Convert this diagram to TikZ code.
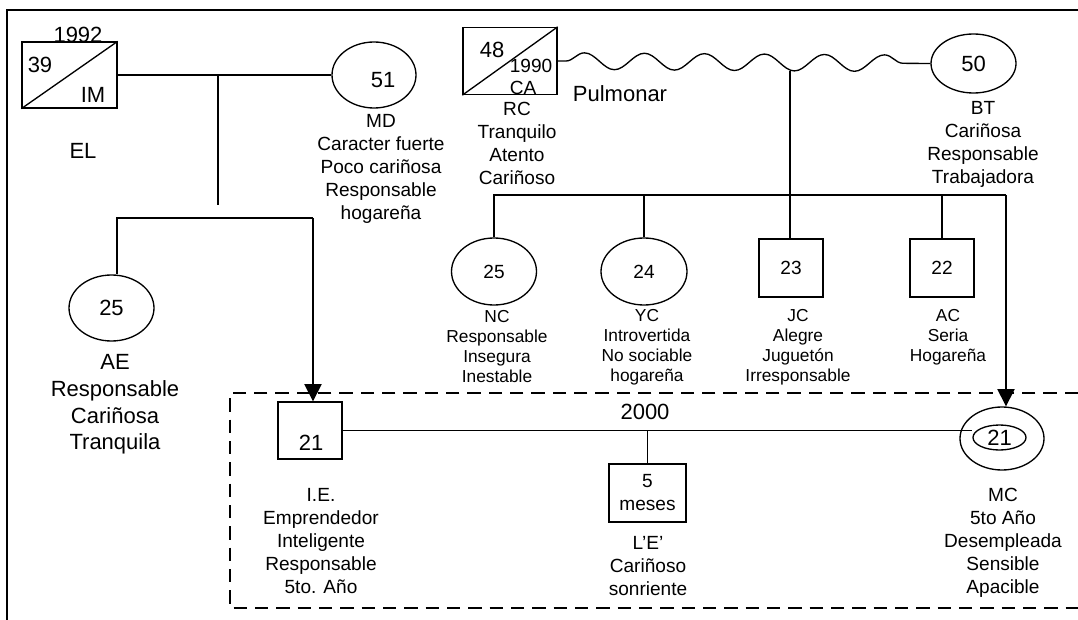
\documentclass[tikz,border=0pt]{standalone}
\usepackage{fontspec}
\setmainfont{Liberation Sans}
\usetikzlibrary{arrows.meta,shapes.geometric,decorations.pathmorphing}

\begin{document}
\begin{tikzpicture}[x=0.75pt,y=-0.75pt,line width=1pt,>={Triangle[length=13pt,width=13pt]},
	Edge/.style={-,black,line width=1pt},
	Male/.style={rectangle,fill=white,draw=black,inner sep=0pt},
	Female/.style={ellipse,fill=white,draw=black,inner sep=0pt},
	BigText/.style={font=\fontsize{16.5}{20}\selectfont,align=center,inner sep=0pt},
	MidText/.style={font=\fontsize{14.3}{17.25}\selectfont,align=center,inner sep=0pt},
	SmallText/.style={font=\fontsize{13}{15}\selectfont,align=center,inner sep=0pt},
	Wave/.style={decorate,decoration={snake,segment length=45pt,amplitude=6.25pt,pre length=6pt}},
	Group/.style={dash pattern=on 10pt off 6pt},
]
	\useasboundingbox (0,0) rectangle (1078,620);
	\draw[Edge] (1078,10) -- (7,10) -- (7,620);

	% abuelos paternos
	\node[Male,minimum width=71.25pt,minimum height=49.5pt] (im) at (69.5,75) {};
	\draw[Edge] (im.south west) -- (im.north east);
	\node[BigText] (imAge) at (40,65) {39};
	\node[BigText] (imName) at (93,95) {IM};
	\node[BigText] (imYear) at (78,35) {1992};
	\node[BigText] (el) at (83,151) {EL};
	\node[Female,minimum width=63pt,minimum height=49.5pt] (md) at (374,75) {};
	\node[BigText] (mdAge) at (383,80) {51};
	\node[MidText] (mdL) at (381,169) {MD\\Caracter fuerte\\Poco cariñosa\\Responsable\\hogareña};
	\node[Female,BigText,minimum width=63.75pt,minimum height=49.5pt] (ae) at (111.5,308) {25};
	\node[BigText] (aeL) at (115,404.5) {AE\\Responsable\\Cariñosa\\Tranquila};

	% abuelos maternos
	\node[Male,minimum width=70.5pt,minimum height=50.25pt] (rc) at (510,61) {};
	\draw[Edge] (rc.south west) -- (rc.north east);
	\node[BigText] (rcAge) at (492,50) {48};
	\node[MidText] (rcYear) at (531,66) {1990};
	\node[MidText] (rcName) at (523,88) {CA};
	\node[MidText] (rcL) at (517,143.5) {RC\\Tranquilo\\Atento\\Cariñoso};
	\node[Female,BigText,minimum width=63.75pt,minimum height=44.25pt] (bt) at (973.5,63.5) {50};
	\node[MidText] (btL) at (983,144) {BT\\Cariñosa\\Responsable\\Trabajadora};
	\node[BigText] (pulm) at (620,94) {Pulmonar};

	% hijos
	\node[Female,MidText,minimum width=63.75pt,minimum height=50.25pt] (nc) at (494,271.5) {25};
	\node[Female,MidText,minimum width=64.5pt,minimum height=50.25pt] (yc) at (644,271.5) {24};
	\node[Male,MidText,minimum width=48pt,minimum height=43.5pt] (jc) at (791,268) {23};
	\node[Male,MidText,minimum width=48pt,minimum height=43.5pt] (ac) at (942,268) {22};
	\node[SmallText] (ncL) at (497,347) {NC\\Responsable\\Insegura\\Inestable};
	\node[SmallText] (ycL) at (647,347) {YC\\Introvertida\\No sociable\\hogareña};
	\node[SmallText] (jcL) at (798,347) {JC\\Alegre\\Juguetón\\Irresponsable};
	\node[SmallText] (acL) at (948,337) {AC\\Seria\\Hogareña};

	% pareja 2000
	\draw[Edge,Group] (1078,393) -| (230,608) -- (1078,608);
	\node[BigText] (yr) at (645,412) {2000};
	\node[Male,minimum width=48pt,minimum height=42.75pt] (ie) at (310,430.5) {};
	\node[BigText] (ieAge) at (311,443) {21};
	\node[MidText] (ieL) at (321,541) {I.E.\\Emprendedor\\Inteligente\\Responsable\\5to. Año};
	\node[Male,MidText,minimum width=57.75pt,minimum height=43.5pt] (baby) at (647.5,493) {5\\meses};
	\node[MidText] (babyL) at (648,566) {L’E’\\Cariñoso\\sonriente};
	\node[Female,minimum width=63pt,minimum height=47.25pt] (mc) at (1002,438.5) {};
	\node[Female,BigText,minimum width=39.75pt,minimum height=18.75pt] (mcIn) at (999.5,437.5) {21};
	\node[MidText] (mcL) at (1003,542.5) {MC\\5to Año\\Desempleada\\Sensible\\Apacible};

	\coordinate (mdDrop) at (218,205);
	\coordinate (kidL) at (117,218);
	\coordinate (kidR) at (313,218);
	\coordinate (sibR) at (1006,195);
	\coordinate (jcTop) at (790,71);

	\draw[Edge] (im.east) -- (md.west);
	\draw[Edge] (im.east -| mdDrop) -- (mdDrop);
	\draw[Edge] (ae.north -| kidL) -- (kidL) -- (kidR);
	\draw[Edge,->] (kidR) -- (kidR |- ie.north);
	\draw[Edge,Wave] (rc.east) -- (bt.west);
	\draw[Edge] (nc.north) |- (sibR);
	\draw[Edge] (yc.north) -- (yc.north |- sibR);
	\draw[Edge] (ac.north) -- (ac.north |- sibR);
	\draw[Edge] (jcTop) -- (jcTop |- jc.north);
	\draw[Edge,->] (sibR) -- (sibR |- mc.north);
	\draw[Edge] (ie.east) -- (ie.east -| mcIn.west);
	\draw[Edge] (baby.north) -- (baby.north |- ie.east);
\end{tikzpicture}
\end{document}
